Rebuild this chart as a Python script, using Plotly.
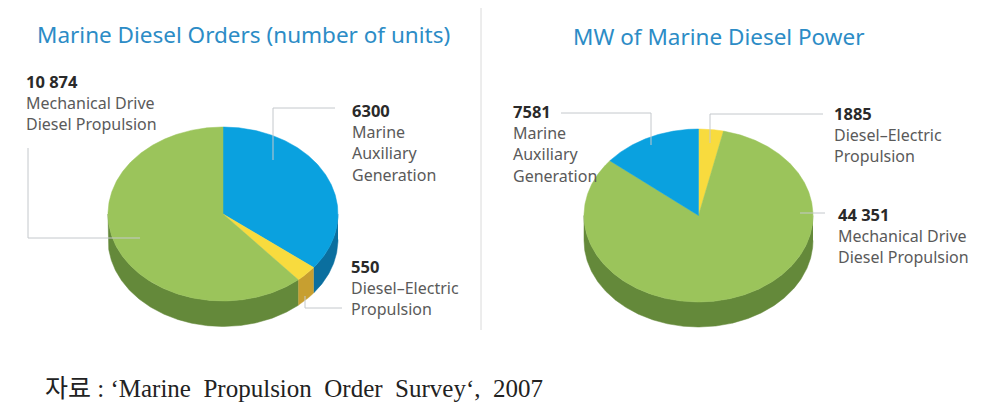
import numpy as np
import plotly.graph_objects as go

# --- data -----------------------------------------------------------
orders_labels = ["Marine Auxiliary Generation", "Diesel-Electric Propulsion", "Mechanical Drive Diesel Propulsion"]
orders_values = [6300, 550, 10874]
power_labels = ["Diesel-Electric Propulsion", "Mechanical Drive Diesel Propulsion", "Marine Auxiliary Generation"]
power_values = [1885, 44351, 7581]
orders_title = "Marine Diesel Orders (number of units)"
power_title = "MW of Marine Diesel Power"
source_note = "자료 : ‘Marine  Propulsion  Order  Survey‘,  2007"

# --- styles ---------------------------------------------------------
TOP = {"Marine": "#0AA1DF", "Diesel": "#F8DB3E", "Mechanical": "#9BC45B"}
SIDE = {"Marine": "#0B6F9F", "Diesel": "#C79F30", "Mechanical": "#64893A"}
TITLE_C, TEXT_C, NUM_C, LINE_C = "#2C8CC6", "#5A5A5A", "#2A2A2A", "#C4C8CC"
SANS = "Noto Sans"


def arc(cx, cy, rx, ry, a0, a1):
    n = max(2, int(abs(a1 - a0)) * 2 + 2)
    t = np.radians(np.linspace(a0, a1, n))
    return cx + rx * np.sin(t), cy - ry * np.cos(t)


def add_pie(fig, labels, values, cx, cy, rx, ry, depth):
    total = sum(values)
    spans, start = [], 0.0
    for lab, val in zip(labels, values):
        end = start + 360.0 * val / total
        spans.append((lab.split()[0].split("-")[0], lab, val, start, end))
        start = end
    # visible side wall: the lower half of the rim (90..270 degrees)
    for key, lab, val, a0, a1 in spans:
        s, e = max(a0, 90.0), min(a1, 270.0)
        if e > s:
            x, y = arc(cx, cy, rx, ry, s, e)
            fig.add_trace(go.Scatter(
                x=np.r_[x, x[::-1]], y=np.r_[y, y[::-1] + depth],
                fill="toself", fillcolor=SIDE[key], mode="lines",
                line=dict(color=SIDE[key], width=0.5), hoverinfo="skip"))
    for key, lab, val, a0, a1 in spans:
        x, y = arc(cx, cy, rx, ry, a0, a1)
        fig.add_trace(go.Scatter(
            x=np.r_[cx, x, cx], y=np.r_[cy, y, cy],
            fill="toself", fillcolor=TOP[key], mode="lines",
            line=dict(color=TOP[key], width=0.5), name=lab, text=f"{lab}: {val}", hoverinfo="text"))


fig = go.Figure()
add_pie(fig, orders_labels, orders_values, 223, 214, 115, 87, 25.5)
add_pie(fig, power_labels, power_values, 698.5, 215.5, 114.5, 86.5, 25)


def text(x, y, s, size=16, color=TEXT_C, family=SANS, anchor="left"):
    fig.add_annotation(x=x, y=y, text=s, showarrow=False, xanchor=anchor, yanchor="middle",
                       xref="x", yref="y", font=dict(size=size, color=color, family=family))


def leader(*pts, color=LINE_C):
    d = "M" + " L".join(f"{a},{b}" for a, b in pts)
    fig.add_shape(type="path", path=d, line=dict(color=color, width=1), xref="x", yref="y")


text(35, 34, orders_title, size=22.5, color=TITLE_C)
text(571, 36, power_title, size=22.5, color=TITLE_C)

blocks = [
    (24, 81, f"{orders_values[2]:,}".replace(",", " "), ["Mechanical Drive", "Diesel Propulsion"]),
    (350, 110, str(orders_values[0]), ["Marine", "Auxiliary", "Generation"]),
    (349, 266, str(orders_values[1]), ["Diesel–Electric", "Propulsion"]),
    (511, 111, str(power_values[2]), ["Marine", "Auxiliary", "Generation"]),
    (832, 113, str(power_values[0]), ["Diesel–Electric", "Propulsion"]),
    (836, 214, f"{power_values[1]:,}".replace(",", " "), ["Mechanical Drive", "Diesel Propulsion"]),
]
for x, y, num, lines in blocks:
    text(x, y, f"<b>{num}</b>", size=16.5, color=NUM_C)
    for i, ln in enumerate(lines):
        text(x, y + 21.7 * (i + 1), ln)

leader((28, 148), (28, 238), (140, 238))
leader((335, 108), (273, 108), (273, 160))
leader((342, 308), (305, 308), (305, 296))
leader((561, 113), (651, 113), (651, 145))
leader((823, 114), (710, 114), (710, 143))
leader((825, 213), (800, 213))
leader((481, 8), (481, 330), color="#DADADA")

text(43, 388, source_note, size=25, color="#222222", family="Liberation Serif, Noto Sans CJK KR")

fig.update_layout(
    width=999, height=405, autosize=False, margin=dict(l=0, r=0, t=0, b=0),
    paper_bgcolor="white", plot_bgcolor="white", showlegend=False,
    xaxis=dict(range=[0, 999], visible=False, fixedrange=True),
    yaxis=dict(range=[405, 0], visible=False, fixedrange=True),
)
fig.write_html("out.html", config={"displayModeBar": False}, default_width="999px", default_height="405px",
               post_script="document.body.style.margin='0';document.documentElement.style.overflow='hidden';")
